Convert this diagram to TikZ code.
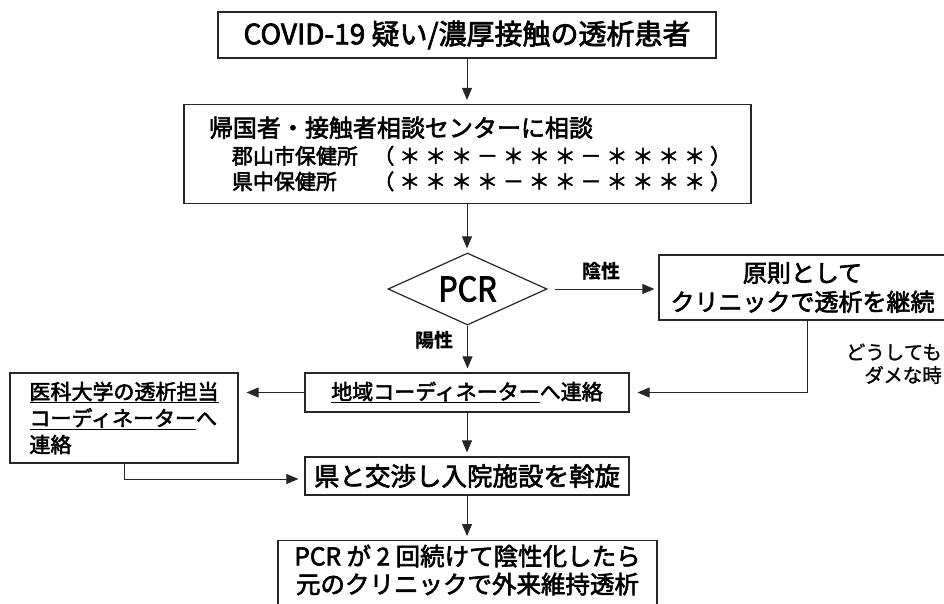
\documentclass[tikz,border=0pt]{standalone}
\usepackage{fontspec}
\setmainfont{Noto Sans CJK JP}
\newfontfamily\med{Noto Sans CJK JP}[FakeBold=2.5]
\newfontfamily\lite{Noto Sans CJK JP}[FakeBold=1.2]
\usetikzlibrary{arrows.meta,shapes.geometric}
\newcommand{\fsz}[1]{\fontsize{#1}{#1}\selectfont}
\newcommand{\fwcell}[1]{\makebox[25.9pt][c]{#1}}
\def\spreadchars#1{\ifx#1\relax\else\fwcell{#1}\expandafter\spreadchars\fi}
\begin{document}
\begin{tikzpicture}[x=1pt,y=-1pt,
  box/.style={draw=black!85,line width=1.2pt,inner sep=0pt},
  conn/.style={draw=black!85,line width=1pt},
  arr/.style={conn,-{Triangle[length=12pt,width=10pt]},shorten >=4pt},
  txt/.style={inner sep=0pt,font=\med},
]
\useasboundingbox (0,0) rectangle (944,603);

\node[box,minimum width=498pt,minimum height=46pt,font=\med\fsz{28}] (top) at (467,35) {COVID-19 疑い/濃厚接触の透析患者};

\node[box,minimum width=567pt,minimum height=99pt,align=left,font=\med\fontsize{21}{25.5}\selectfont] (consult) at (467.5,154) {\hspace*{7.5pt}{\fsz{24}帰国者・接触者相談センターに相談}\\[1.5pt]
\hspace*{30.5pt}\makebox[139pt][l]{郡山市保健所}\spreadchars（＊＊＊－＊＊＊－＊＊＊＊）\relax\\
\hspace*{30.5pt}\makebox[139pt][l]{県中保健所}\spreadchars（＊＊＊＊－＊＊－＊＊＊＊）\relax};

\node[box,diamond,aspect=2.2,minimum width=159pt,minimum height=72pt,font=\med\fsz{34}\addfontfeatures{FakeStretch=0.9}] (pcr) at (467.5,289) {PCR};

\node[box,minimum width=287pt,minimum height=65pt,align=center,font=\med\fontsize{24}{29}\selectfont] (neg) at (802.5,287.5) {原則として\\クリニックで透析を継続};

\node[box,minimum width=324pt,minimum height=39pt,font=\med\fsz{21}] (region) at (467,392.5) {\underline{地域コーディネーター}へ連絡};

\node[box,minimum width=228pt,minimum height=90pt,align=left,font=\med\fontsize{21}{26.5}\selectfont] (left) at (124,418) {\underline{医科大学の透析担当}\\\underline{コーディネーター}へ\\連絡};

\node[box,minimum width=324pt,minimum height=38pt,font=\med\fsz{25.5}] (ken) at (467,476) {県と交渉し入院施設を斡旋};

\node[box,minimum width=379pt,minimum height=75pt,anchor=north] (final) at (467.5,540) {};
\node[txt,align=center,font=\med\fontsize{24.5}{28}\selectfont] (finaltxt) at (467.5,570) {PCR が 2 回続けて陰性化したら\\元のクリニックで外来維持透析};

\node[txt,font=\bfseries\fsz{19}] (lneg) at (601,271) {陰性};
\node[txt,font=\bfseries\fsz{19}] (lpos) at (434,340) {陽性};
\node[txt,anchor=east,font=\lite\fsz{19.5}] (dou) at (942,352) {どうしても};
\node[txt,anchor=east,font=\lite\fsz{19.5}] (dame) at (942,375) {ダメな時};

\draw[arr] (top.south) -- (top.south |- consult.north);
\draw[arr] (top.south |- consult.south) -- (top.south |- pcr.north);
\draw[arr,shorten <=7pt] (pcr.east) -- (pcr.east -| neg.west);
\draw[arr] (pcr.south) -- (pcr.south |- region.north);
\draw[arr,shorten >=8pt] ([xshift=4.5pt]neg.south) |- (region.east);
\draw[arr,shorten >=8pt] (region.west) -- (region.west -| left.east);
\draw[arr] (region.south) -- (region.south |- ken.north);
\draw[arr,shorten >=6pt] (left.south) |- ([yshift=-3pt]ken.west);
\draw[arr] (ken.south) -- (ken.south |- final.north);
\end{tikzpicture}
\end{document}
